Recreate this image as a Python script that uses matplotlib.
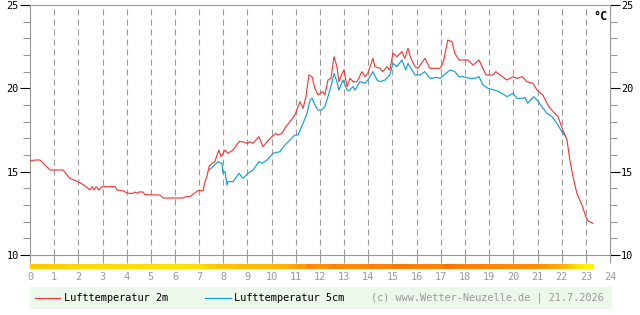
import matplotlib
matplotlib.use("Agg")
import matplotlib.pyplot as plt
import numpy as np
from matplotlib.colors import LinearSegmentedColormap, Normalize
from matplotlib.patches import Rectangle
from matplotlib.lines import Line2D

# Lufttemperatur 2m (hour of day, degC)
hours_2m = [0.0, 0.21, 0.41, 0.62, 0.83, 1.37, 1.65, 1.99, 2.23, 2.40, 2.48, 2.57, 2.65, 2.73,
            2.85, 2.98, 3.52, 3.60, 3.85, 4.05, 4.26, 4.34, 4.43, 4.51, 4.68, 4.76, 5.38, 5.50,
            6.33, 6.45, 6.62, 6.79, 6.95, 7.16, 7.24, 7.32, 7.41, 7.53, 7.65, 7.74, 7.82, 7.90,
            7.99, 8.07, 8.19, 8.40, 8.65, 8.81, 8.98, 9.10, 9.23, 9.47, 9.64, 9.81, 10.01, 10.18,
            10.26, 10.43, 10.59, 10.76, 10.96, 11.17, 11.30, 11.42, 11.54, 11.67, 11.79, 11.92,
            12.12, 12.20, 12.33, 12.45, 12.58, 12.70, 12.78, 12.95, 12.99, 13.12, 13.24, 13.36,
            13.53, 13.74, 13.86, 13.98, 14.19, 14.27, 14.48, 14.60, 14.77, 14.89, 15.02, 15.18,
            15.39, 15.51, 15.64, 15.76, 15.93, 16.05, 16.34, 16.55, 16.96, 17.09, 17.29, 17.46,
            17.58, 17.75, 18.12, 18.33, 18.58, 18.87, 19.16, 19.28, 19.45, 19.74, 19.98, 20.15,
            20.36, 20.56, 20.81, 20.98, 21.22, 21.43, 21.64, 21.85, 22.05, 22.22, 22.34, 22.47,
            22.63, 22.84, 23.00, 23.09, 23.29]
temp_2m = [15.64, 15.7, 15.7, 15.4, 15.1, 15.1, 14.6, 14.4, 14.2, 14.0, 13.9, 14.1, 13.9, 14.1,
           13.9, 14.1, 14.1, 13.9, 13.85, 13.7, 13.7, 13.78, 13.7, 13.78, 13.78, 13.62, 13.6, 13.42,
           13.42, 13.5, 13.5, 13.7, 13.86, 13.86, 14.4, 14.7, 15.3, 15.5, 15.6, 16.0, 16.3, 15.9,
           16.1, 16.3, 16.1, 16.3, 16.8, 16.8, 16.7, 16.8, 16.7, 17.1, 16.5, 16.8, 17.1, 17.3,
           17.2, 17.3, 17.7, 18.0, 18.4, 19.2, 18.8, 19.5, 20.8, 20.7, 20.0, 19.6,
           19.8, 19.6, 20.5, 20.6, 21.9, 21.3, 20.4, 21.0, 21.1, 20.1, 20.6, 20.4,
           20.4, 21.0, 20.7, 20.9, 21.8, 21.3, 21.2, 21.0, 21.3, 21.1, 22.1, 21.9,
           22.2, 21.8, 22.4, 21.8, 21.3, 21.2, 21.8, 21.2, 21.2, 21.5, 22.9, 22.8,
           22.1, 21.7, 21.7, 21.4, 21.7, 20.8, 20.8, 21.0, 20.8, 20.5, 20.7, 20.6,
           20.7, 20.4, 20.3, 19.9, 19.6, 19.0, 18.6, 18.3, 17.5, 16.9, 15.7, 14.7,
           13.7, 13.0, 12.3, 12.05, 11.9]

# Lufttemperatur 5cm
hours_5cm = [7.41, 7.57, 7.78, 7.94, 7.99, 8.07, 8.15, 8.19, 8.40, 8.65, 8.81, 9.02, 9.23, 9.47,
             9.60, 9.81, 10.05, 10.34, 10.55, 10.76, 10.96, 11.09, 11.30, 11.46, 11.59, 11.67,
             11.79, 11.92, 12.08, 12.20, 12.33, 12.45, 12.58, 12.70, 12.78, 12.95, 13.12, 13.20,
             13.36, 13.45, 13.65, 13.86, 13.98, 14.19, 14.36, 14.48, 14.69, 14.89, 15.02, 15.18,
             15.39, 15.55, 15.64, 15.93, 16.14, 16.34, 16.55, 16.84, 16.96, 17.38, 17.58, 17.75,
             17.91, 18.20, 18.41, 18.58, 18.74, 18.95, 19.32, 19.53, 19.74, 19.98, 20.15, 20.36,
             20.48, 20.60, 20.77, 20.85, 20.98, 21.18, 21.39, 21.60, 21.80, 22.01, 22.17]
temp_5cm = [15.1, 15.3, 15.6, 15.5, 14.9, 15.0, 14.2, 14.4, 14.4, 14.9, 14.6, 14.9, 15.1, 15.6,
            15.5, 15.7, 16.1, 16.2, 16.6, 16.9, 17.2, 17.2, 17.9, 18.5, 19.3, 19.4,
            19.0, 18.7, 18.7, 18.9, 19.5, 20.1, 20.9, 20.4, 19.9, 20.5, 19.9, 19.85,
            20.1, 19.9, 20.4, 20.3, 20.5, 21.0, 20.5, 20.4, 20.5, 20.8, 21.5, 21.3,
            21.7, 21.1, 21.5, 20.8, 20.8, 21.0, 20.6, 20.65, 20.6, 21.1, 21.0, 20.7,
            20.7, 20.6, 20.6, 20.7, 20.2, 20.0, 19.85, 19.7, 19.5, 19.7, 19.4, 19.4,
            19.45, 19.1, 19.4, 19.5, 19.3, 18.9, 18.5, 18.3, 17.9, 17.4, 17.1]

x_ticks = list(range(25))
y_ticks = [10, 15, 20, 25]

W, H = 640, 315
mono = "DejaVu Sans Mono"
grey = "#999999"

fig = plt.figure(figsize=(6.4, 3.15), dpi=100)
ax = fig.add_axes([30 / W, 60 / H, 580 / W, 250 / H])

for h in x_ticks[1:-1]:
    ax.axvline(h, color=grey, lw=0.8, ls=(0, (5.4, 3.6)), zorder=1)

ax.plot(hours_2m, temp_2m, color="#f03c3c", lw=0.85, zorder=3)
ax.plot(hours_5cm, temp_5cm, color="#12a0d8", lw=0.85, zorder=2)

ax.set_xlim(0, 24)
ax.set_ylim(10, 25)
ax.set_xticks(x_ticks)
ax.set_yticks(y_ticks)
ax.set_yticks(range(11, 25), minor=True)
for s in ax.spines.values():
    s.set_color(grey)
    s.set_linewidth(0.8)

ax.tick_params(axis="x", direction="out", length=6, width=0.8, color=grey,
               labelcolor=grey, labelsize=7.4, pad=6)
for lab in ax.get_xticklabels():
    lab.set_family(mono)
ax.tick_params(axis="y", which="major", direction="out", length=7, width=0.8, color="black",
               labelsize=7.4, left=True, right=True, labelleft=True, labelright=True, pad=1)
ax.tick_params(axis="y", which="minor", direction="out", length=5, width=0.8, color=grey,
               left=True, right=True)
for lab in ax.get_yticklabels():
    lab.set_family(mono)

# colour bar below axis, coloured by 2m temperature
nodes = [(0.0, "#fff200"), (0.14, "#ffe000"), (0.33, "#ffc800"), (0.45, "#ffba00"),
         (0.59, "#ffa500"), (0.73, "#ff8c00"), (0.86, "#ff8200"), (1.0, "#ff7000")]
cmap = LinearSegmentedColormap.from_list("tbar", nodes)
bax = fig.add_axes([30 / W, (H - 269) / H, 580 / W, 5 / H])
hx = np.array(hours_2m)
edges = np.concatenate([[0.0], (hx[1:] + hx[:-1]) / 2, [hx[-1] + 0.04]])
bax.pcolormesh(edges, [0, 1], np.array(temp_2m)[None, :], cmap=cmap,
               norm=Normalize(12, 23), shading="flat")
bax.set_xlim(0, 24)
bax.set_ylim(0, 1)
bax.axis("off")

fig.text(593 / W, (H - 16) / H, "°C", fontsize=8.5, fontweight="bold", family=mono,
         va="center", ha="left")

# legend strip
fig.patches.append(Rectangle((30 / W, (H - 308) / H), 581 / W, 21 / H,
                             transform=fig.transFigure, color="#ecf8ec", zorder=0))
ly = (H - 298) / H
fig.add_artist(Line2D([35 / W, 60 / W], [ly, ly], color="#f03c3c", lw=0.9))
fig.text(64 / W, ly, "Lufttemperatur 2m", fontsize=7.4, family=mono, va="center")
fig.add_artist(Line2D([205 / W, 231 / W], [ly, ly], color="#12a0d8", lw=0.9))
fig.text(234 / W, ly, "Lufttemperatur 5cm", fontsize=7.4, family=mono, va="center")
fig.text(604 / W, ly, "(c) www.Wetter-Neuzelle.de | 21.7.2026", fontsize=7.4, family=mono,
         color=grey, va="center", ha="right")

fig.savefig("out.png", dpi=100)
